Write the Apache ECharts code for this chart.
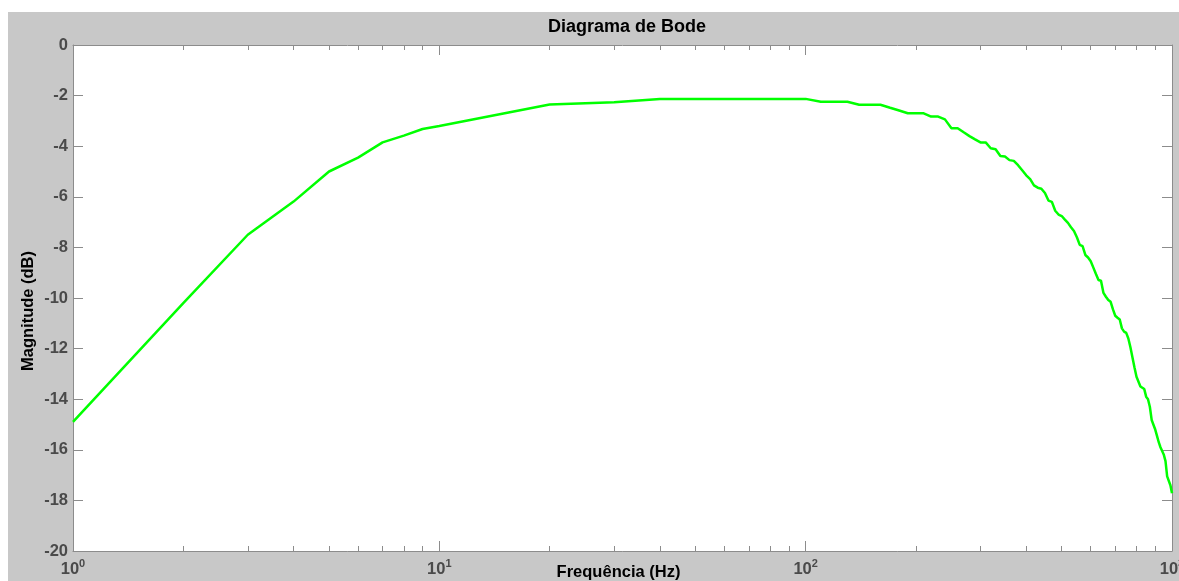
<!DOCTYPE html>
<html>
<head>
<meta charset="utf-8">
<script src="https://cdn.jsdelivr.net/npm/echarts@6/dist/echarts.min.js"></script>
<style>
  html, body { margin: 0; padding: 0; background: #fff; }
  #chart { position: absolute; left: 8px; top: 12px; width: 1171px; height: 569px; background: #c8c8c8; }
</style>
</head>
<body>
<div id="chart"></div>
<script>
// frequencia (Hz) e magnitude (dB)
var freq = [1, 2, 3, 4, 5, 6, 7, 8, 9, 10, 20, 30, 40, 50, 60, 70, 80, 90,
  100, 110, 120, 130, 140, 150, 160, 170, 180, 190, 200, 210, 220, 230, 240, 250,
  260, 270, 280, 290, 300, 310, 320, 330, 340, 350, 360, 370, 380, 390, 400,
  410, 420, 430, 440, 450, 460, 470, 480, 490, 500, 510, 520, 530, 540, 550,
  560, 570, 580, 590, 600, 610, 620, 630, 640, 650, 660, 670, 680, 690, 700,
  710, 720, 730, 740, 750, 760, 770, 780, 790, 800, 810, 820, 830, 840, 850,
  860, 870, 880, 890, 900, 910, 920, 930, 940, 950, 960, 970, 980, 990, 1000];
var mag = [-14.9, -10.2, -7.5, -6.19, -5.0, -4.45, -3.85, -3.58, -3.32, -3.2, -2.35, -2.26, -2.13, -2.13, -2.13, -2.13, -2.13, -2.13,
  -2.13, -2.24, -2.24, -2.24, -2.36, -2.36, -2.36, -2.48, -2.59, -2.7, -2.7, -2.7, -2.83, -2.83, -2.94, -3.29,
  -3.29, -3.45, -3.6, -3.73, -3.85, -3.85, -4.08, -4.12, -4.39, -4.41, -4.55, -4.58, -4.75, -4.95, -5.15,
  -5.3, -5.55, -5.64, -5.68, -5.85, -6.15, -6.2, -6.55, -6.7, -6.76, -6.9, -7.03, -7.2, -7.35, -7.6,
  -7.9, -7.95, -8.3, -8.4, -8.55, -8.8, -9.05, -9.29, -9.32, -9.8, -9.95, -10.08, -10.15, -10.45, -10.7,
  -10.78, -10.85, -11.2, -11.33, -11.38, -11.6, -11.95, -12.35, -12.75, -13.11, -13.15, -13.5, -13.55, -13.6, -13.9,
  -14.0, -14.3, -14.82, -14.85, -15.2, -15.45, -15.7, -15.9, -15.95, -16.2, -16.45, -17.05, -17.1, -17.4, -17.72];

var majorTicks = [1, 10, 100, 1000];
var minorTicks = [2, 3, 4, 5, 6, 7, 8, 9, 20, 30, 40, 50, 60, 70, 80, 90, 200, 300, 400, 500, 600, 700, 800, 900];

var lineData = []
for (var i = 0; i < freq.length; i++) {
  lineData.push([freq[i], mag[i]])
}

var axisColor = '#8c8c8c'
var labelColor = '#4a4a4a'
var fontFam = 'Liberation Sans, Arial, sans-serif'

function logAxis(pos, major, showLabel, showLine) {
  return {
    type: 'log',
    logBase: 10,
    position: pos,
    min: 1,
    max: 1000,
    name: showLabel ? 'Frequência (Hz)' : '',
    nameLocation: 'middle',
    nameGap: 13,
    nameMoveOverlap: false,
    nameTextStyle: { color: '#000', fontWeight: 'bold', fontSize: 16.5, fontFamily: fontFam, padding: [0, 8, 0, 0] },
    axisLine: { show: showLine, onZero: false, lineStyle: { color: axisColor, width: 1 } },
    axisTick: {
      show: true,
      inside: true,
      length: major ? 10 : 5,
      customValues: major ? majorTicks : minorTicks,
      lineStyle: { color: axisColor, width: 1 }
    },
    axisLabel: {
      show: showLabel,
      customValues: majorTicks,
      margin: 7,
      hideOverlap: false,
      formatter: function (v) {
        var e = Math.round(Math.log(v) / Math.LN10)
        return '{b|10}{s|' + e + '}'
      },
      rich: {
        b: { fontSize: 16.5, fontWeight: 'bold', color: labelColor, fontFamily: fontFam },
        s: { fontSize: 11, fontWeight: 'bold', color: labelColor, fontFamily: fontFam, padding: [0, 0, 11, 0] }
      }
    },
    splitLine: { show: false },
    minorTick: { show: false }
  }
}

var chart = echarts.init(document.getElementById('chart'))
var option = {
  backgroundColor: '#c8c8c8',
  animation: false,
  title: {
    text: 'Diagrama de Bode',
    left: 614,
    top: 1,
    textAlign: 'center',
    textStyle: { color: '#000', fontWeight: 'bold', fontSize: 18, fontFamily: fontFam }
  },
  grid: {
    left: 65,
    top: 33,
    right: 7,
    bottom: 30,
    containLabel: false,
    outerBoundsMode: 'none',
    show: true,
    backgroundColor: '#fff',
    borderWidth: 0
  },
  xAxis: [
    logAxis('bottom', true, true, true),
    logAxis('bottom', false, false, false),
    logAxis('top', true, false, true),
    logAxis('top', false, false, false)
  ],
  yAxis: [{
    type: 'value',
    position: 'left',
    min: -20,
    max: 0,
    interval: 2,
    name: 'Magnitude (dB)',
    nameLocation: 'middle',
    nameGap: 36,
    nameMoveOverlap: false,
    nameTextStyle: { color: '#000', fontWeight: 'bold', fontSize: 16.5, fontFamily: fontFam, padding: [0, 26, 0, 0] },
    axisLine: { show: true, lineStyle: { color: axisColor } },
    axisTick: { show: true, inside: true, length: 10, lineStyle: { color: axisColor } },
    axisLabel: { color: labelColor, fontWeight: 'bold', fontSize: 16.5, fontFamily: fontFam, margin: 5 },
    splitLine: { show: false }
  }, {
    type: 'value',
    position: 'right',
    min: -20,
    max: 0,
    interval: 2,
    axisLine: { show: true, lineStyle: { color: axisColor } },
    axisTick: { show: true, inside: true, length: 10, lineStyle: { color: axisColor } },
    axisLabel: { show: false },
    splitLine: { show: false }
  }],
  series: [{
    name: 'Magnitude',
    type: 'line',
    xAxisIndex: 0,
    yAxisIndex: 0,
    data: lineData,
    showSymbol: false,
    symbol: 'none',
    lineStyle: { color: '#00ff00', width: 2.5 },
    z: 3
  }]
}
chart.setOption(option)
</script>
</body>
</html>
